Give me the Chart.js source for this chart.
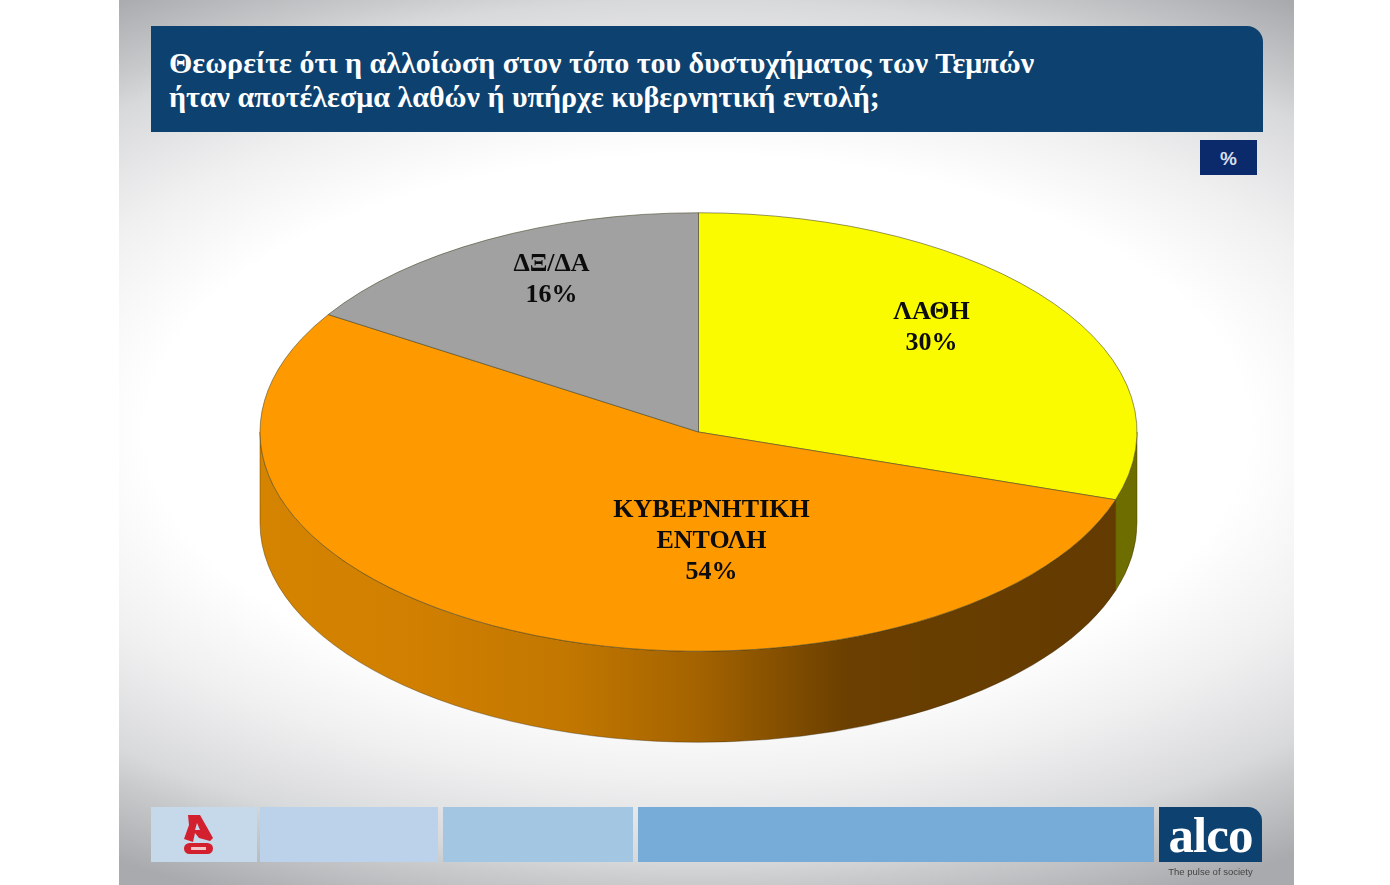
<!DOCTYPE html>
<html>
<head>
<meta charset="utf-8">
<title>alco</title>
<script src="https://cdn.jsdelivr.net/npm/chart.js@4"></script>
<style>
  html, body { margin: 0; padding: 0; width: 1390px; height: 885px; overflow: hidden; background: #fff; }
  #panel { position: absolute; left: 119px; top: 0; width: 1175px; height: 885px; overflow: hidden;
    background: radial-gradient(ellipse 1000px 500px at 578px 430px, #fff 0%, #fff 55%, #f0f0f1 70%, #d8d9da 86%, #c9cacc 91%, #a9aaad 104%); }
  #pie { position: absolute; left: 0; top: -10px; }
  .box { position: absolute; }
  #title { left: 151px; top: 26px; width: 1112px; height: 106px; background: #0d4270; border-top-right-radius: 16px; }
  #title div { position: absolute; left: 18px; color: #fff; white-space: nowrap;
    font: bold 30px "Liberation Serif", serif; line-height: 34px; }
  #unit { left: 1200px; top: 140px; width: 57px; height: 35px; background: #0b2a6b; color: #d8dfee;
    font: bold 19px "Liberation Sans", sans-serif; line-height: 37px; text-align: center; }
  #logo { left: 1159px; top: 807px; width: 103px; height: 55px; background: #0d4270; border-top-right-radius: 14px;
    color: #fff; font: bold 51px "Liberation Serif", serif; line-height: 56px; text-align: center; letter-spacing: -1px; }
  #pulse { left: 1159px; top: 866px; width: 103px; color: #444; font: 9.5px "Liberation Sans", sans-serif; text-align: center; }
</style>
</head>
<body>
<div id="panel"></div>
<canvas id="pie" width="1390" height="900"></canvas>
<div class="box" id="title"><div style="top:20px">Θεωρείτε ότι η αλλοίωση στον τόπο του δυστυχήματος των Τεμπών</div><div style="top:54px">ήταν αποτέλεσμα λαθών ή υπήρχε κυβερνητική εντολή;</div></div>
<div class="box" id="unit">%</div>
<div class="box" style="left:151px;top:807px;width:106px;height:55px;background:#c5d9ea"></div>
<div class="box" style="left:260px;top:807px;width:178px;height:55px;background:#bcd2ea"></div>
<div class="box" style="left:443px;top:807px;width:190px;height:55px;background:#a3c6e3"></div>
<div class="box" style="left:638px;top:807px;width:516px;height:55px;background:#77acd8"></div>
<svg class="box" style="left:180px;top:812px" width="40" height="45" viewBox="0 0 40 45">
  <path d="M8 3 L20 3 L33 26 L30 29 L19 26 L15 21 L13 30 L4 27 L9 13 Z" fill="#d3202e"/>
  <path d="M17 11 L20 18 L15 18 Z" fill="#c5d9ea"/>
  <rect x="4" y="31" width="29" height="11" rx="5.5" fill="#d3202e"/>
  <rect x="11" y="35" width="15" height="3" fill="#f3c4c8"/>
</svg>
<div class="box" id="logo">alco</div>
<div class="box" id="pulse">The pulse of society</div>

<script>
const categories = ['ΛΑΘΗ', 'ΚΥΒΕΡΝΗΤΙΚΗ\nΕΝΤΟΛΗ', 'ΔΞ/ΔΑ'];
const values = [30, 54, 16];
const sliceColors = ['#fbfb00', '#fe9900', '#a1a1a1'];
const wallStops = [
  [['0', '#6e6e00'], ['1', '#6e6e00']],
  [['0', '#d58400'], ['0.18', '#d07f00'], ['0.35', '#c27700'], ['0.5', '#a46300'], ['0.67', '#6a3f00'], ['1', '#633a00']],
  [['0', '#555555'], ['1', '#555555']]
];

const tilt = 0.5;      // how flat the pie looks
const depth = 91;      // height of the side wall
// label centres, relative to the middle of the pie
const labelOffsets = [[233, -104], [13, 109], [-147, -152]];

const pie3d = {
  id: 'pie3d',
  beforeDatasetsDraw(chart) {
    const ctx = chart.ctx;
    chart.getDatasetMeta(0).data.forEach((arc, i) => {
      const r = arc.outerRadius;
      // only the part of the rim facing the viewer is visible
      const from = Math.max(arc.startAngle, 0);
      const to = Math.min(arc.endAngle, Math.PI);
      if (to <= from) return;
      const grad = ctx.createLinearGradient(arc.x - r, 0, arc.x + r, 0);
      wallStops[i].forEach(s => grad.addColorStop(+s[0], s[1]));
      ctx.save();
      ctx.beginPath();
      ctx.ellipse(arc.x, arc.y, r, r * tilt, 0, from, to);
      ctx.ellipse(arc.x, arc.y + depth, r, r * tilt, 0, to, from, true);
      ctx.closePath();
      ctx.fillStyle = grad;
      ctx.fill();
      ctx.strokeStyle = 'rgba(60,40,0,0.4)';
      ctx.lineWidth = 1;
      ctx.stroke();
      ctx.restore();
    });
  },
  beforeDatasetDraw(chart) {
    const arc = chart.getDatasetMeta(0).data[0];
    const ctx = chart.ctx;
    ctx.save();
    ctx.translate(arc.x, arc.y);
    ctx.scale(1, tilt);
    ctx.translate(-arc.x, -arc.y);
  },
  afterDatasetDraw(chart) {
    chart.ctx.restore();
  },
  afterDraw(chart) {
    const ctx = chart.ctx;
    ctx.save();
    ctx.fillStyle = '#0c0c0c';
    ctx.font = 'bold 26px "Liberation Serif", serif';
    ctx.textAlign = 'center';
    ctx.textBaseline = 'middle';
    chart.getDatasetMeta(0).data.forEach((arc, i) => {
      const lines = categories[i].split('\n').concat(values[i] + '%');
      const lineHeight = 31;
      const top = arc.y + labelOffsets[i][1] - (lines.length - 1) * lineHeight / 2;
      lines.forEach((line, n) => {
        ctx.fillText(line, arc.x + labelOffsets[i][0], top + n * lineHeight);
      });
    });
    ctx.restore();
  }
};

new Chart(document.getElementById('pie').getContext('2d'), {
  type: 'pie',
  data: {
    labels: categories,
    datasets: [{
      data: values,
      backgroundColor: sliceColors,
      borderColor: 'rgba(70,70,40,0.75)',
      borderWidth: 1,
    }],
  },
  plugins: [pie3d],
  options: {
    responsive: false,
    animation: false,
    layout: { padding: { left: 7, right: 0, top: 3, bottom: 19 } },
    plugins: {
      legend: { display: false },
      tooltip: { enabled: false },
    },
  },
});
</script>
</body>
</html>
